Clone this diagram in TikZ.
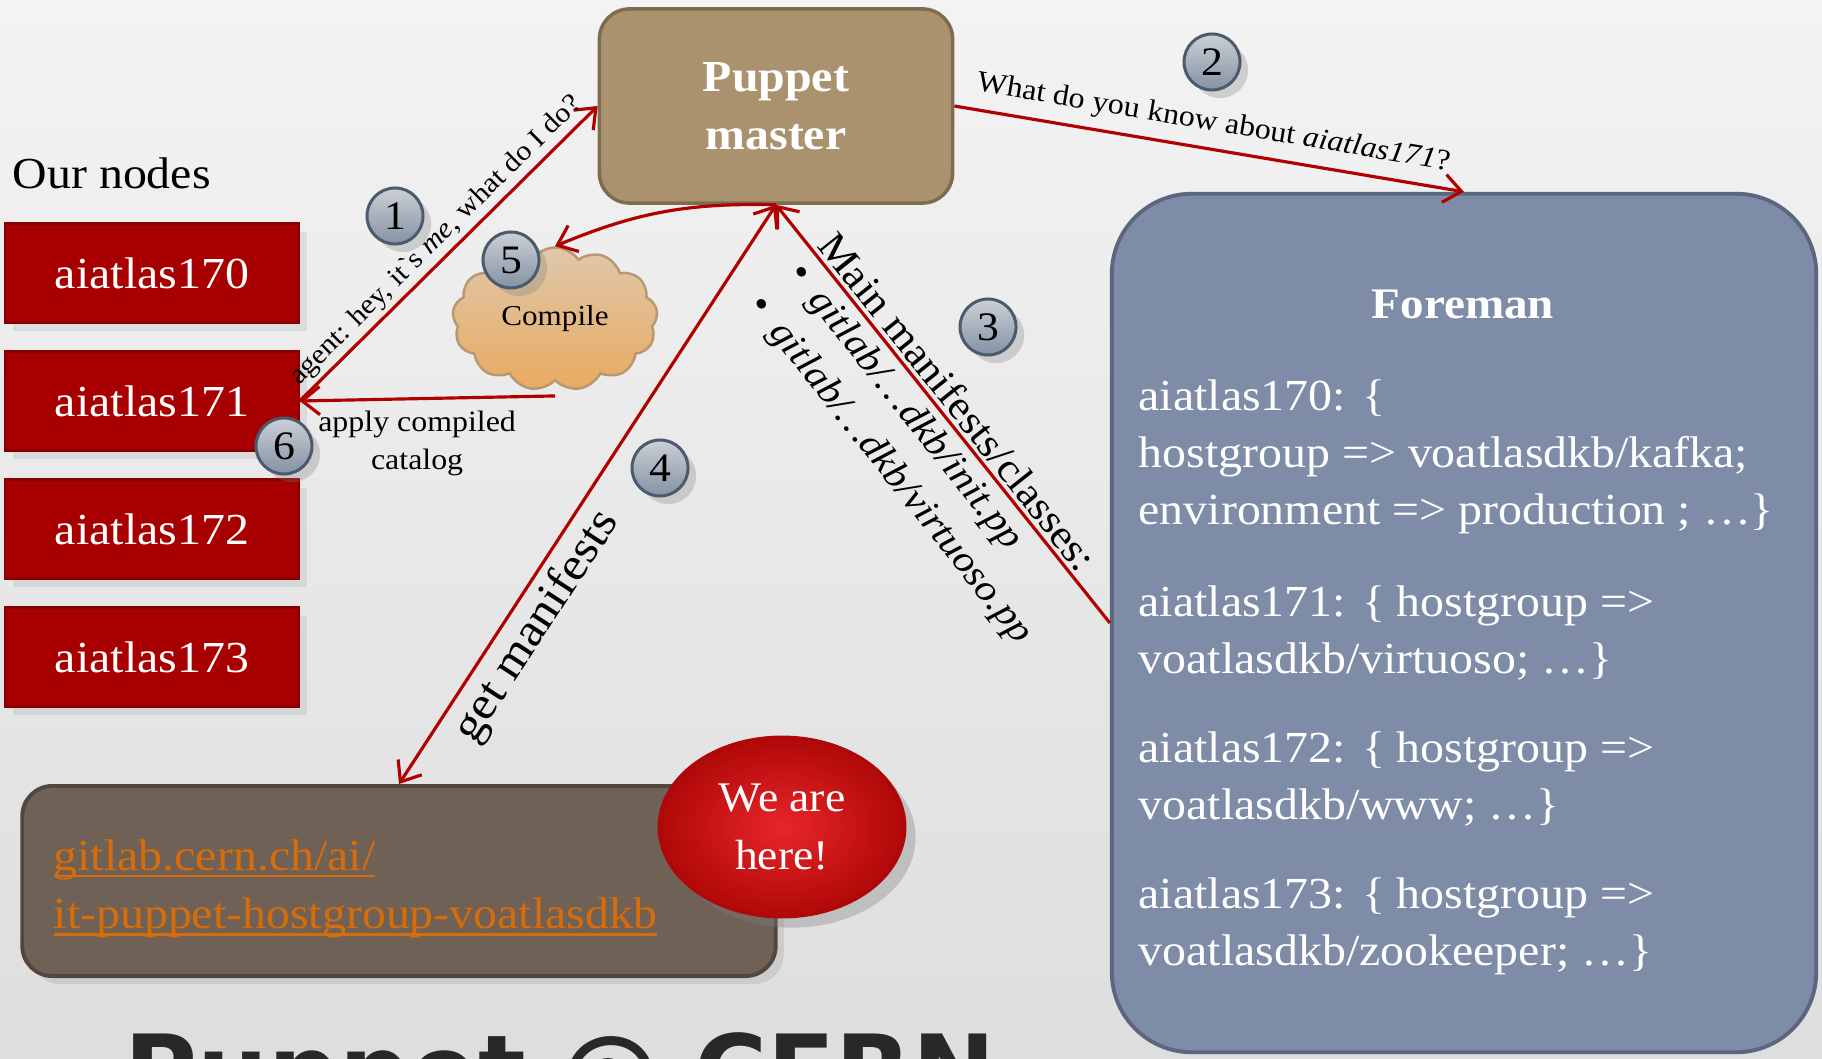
\documentclass[tikz,border=0pt]{standalone}
\usepackage{fontspec}
\setmainfont{Liberation Serif}[FakeStretch=1.08]
\newfontfamily\titlefont{DejaVu Sans}
\usetikzlibrary{shapes,shapes.symbols,arrows.meta,positioning,shadows,calc}
\definecolor{bgtop}{RGB}{243,243,243}
\definecolor{bgbot}{RGB}{222,222,222}
\definecolor{nodered}{RGB}{168,0,0}
\definecolor{noderedline}{RGB}{136,0,0}
\definecolor{masterfill}{RGB}{171,146,110}
\definecolor{masterline}{RGB}{126,108,80}
\definecolor{foremanfill}{RGB}{126,140,167}
\definecolor{foremanline}{RGB}{91,103,128}
\definecolor{gitfill}{RGB}{112,97,87}
\definecolor{gitline}{RGB}{82,70,63}
\definecolor{linkorange}{RGB}{214,108,10}
\definecolor{arrowred}{RGB}{176,0,0}
\definecolor{badgetop}{RGB}{204,208,214}
\definecolor{badgebot}{RGB}{132,146,164}
\definecolor{badgeline}{RGB}{75,90,108}
\definecolor{cloudtop}{RGB}{222,200,170}
\definecolor{cloudbot}{RGB}{233,170,96}
\definecolor{cloudline}{RGB}{182,152,114}
\definecolor{hereinner}{RGB}{232,38,42}
\definecolor{hereouter}{RGB}{176,8,8}
\definecolor{titlegray}{RGB}{40,40,40}
\newcommand{\linktext}[1]{\setbox0\hbox{#1}\rlap{\rule[-2pt]{\wd0}{0.6pt}}\box0}

\begin{document}
\begin{tikzpicture}[x=0.01cm, y=-0.01cm,
    flow/.style={draw=arrowred, line width=0.9pt, >={Straight Barb[length=5pt,width=8pt]}},
    hostbox/.style={rectangle, fill=nodered, draw=noderedline, line width=0.6pt,
        minimum width=2.93cm, minimum height=0.99cm, text=white,
        font=\fontsize{12.6}{15}\selectfont, drop shadow={opacity=0.15}},
    badge/.style={circle, minimum size=0.56cm, inner sep=0pt, top color=badgetop,
        bottom color=badgebot, draw=badgeline, line width=0.85pt,
        font=\fontsize{11.5}{12}\selectfont, drop shadow={opacity=0.3}},
    small/.style={inner sep=0pt, font=\fontsize{8.2}{10.8}\selectfont}]
    % Slide background
    \shade[top color=bgtop, bottom color=bgbot] (0,0) rectangle (1822,1058);
    \useasboundingbox (0,0) rectangle (1822,1058);
    \clip (0,0) rectangle (1822,1058);
    \node[anchor=base, text=titlegray, font=\titlefont\bfseries\fontsize{28.3}{30}\selectfont] (title) at (560,1106) {Puppet @ CERN};

    % Our nodes
    \node[anchor=west, inner sep=0pt, font=\fontsize{12.6}{15}\selectfont] (ournodes) at (12,173) {Our nodes};
    \node[hostbox] (ai170) at (152,273) {aiatlas170};
    \node[hostbox] (ai171) at (152,401) {aiatlas171};
    \node[hostbox] (ai172) at (152,529) {aiatlas172};
    \node[hostbox] (ai173) at (152,657) {aiatlas173};

    % Puppet master and Foreman
    \node[rectangle, rounded corners=0.3cm, minimum width=3.53cm, minimum height=1.94cm,
        fill=masterfill, draw=masterline, line width=1pt, text=white, align=center,
        font=\bfseries\fontsize{12.6}{16.5}\selectfont] (master) at (776,106) {Puppet\\master};
    \node[rectangle, rounded corners=0.8cm, minimum width=7.04cm, minimum height=8.58cm,
        fill=foremanfill, draw=foremanline, line width=1.1pt] (foreman) at (1464,623) {};
    \node[text=white, font=\bfseries\fontsize{12.4}{15}\selectfont] (foremantitle) at (1463,304) {Foreman};
    \node[anchor=north west, inner sep=0pt, align=left, text=white,
        font=\fontsize{12.6}{16.2}\selectfont] (hosts) at (1138,379)
        {aiatlas170: \{\\hostgroup => voatlasdkb/kafka;\\environment => production ; …\}\\[10pt]
         aiatlas171: \{ hostgroup =>\\voatlasdkb/virtuoso; …\}\\[9.1pt]
         aiatlas172: \{ hostgroup =>\\voatlasdkb/www; …\}\\[9.1pt]
         aiatlas173: \{ hostgroup =>\\voatlasdkb/zookeeper; …\}};

    % Git repository
    \node[rectangle, rounded corners=0.3cm, minimum width=7.53cm, minimum height=1.90cm,
        fill=gitfill, draw=gitline, line width=1.1pt, drop shadow={opacity=0.2}] (gitlab) at (399,881) {};
    \node[anchor=north west, inner sep=0pt, align=left, text=linkorange,
        font=\fontsize{12.6}{16.5}\selectfont] (gitlink) at (53,839)
        {\linktext{gitlab.cern.ch/ai/}\\\linktext{it-puppet-hostgroup-voatlasdkb}};
    \node[ellipse, minimum width=2.46cm, minimum height=1.80cm, inner color=hereinner,
        outer color=hereouter, draw=hereouter, line width=0.8pt, text=white, align=center,
        font=\fontsize{12}{16.5}\selectfont,
        drop shadow={opacity=0.35, shadow xshift=3pt, shadow yshift=-3pt}] (here) at (782,827) {We are\\here!};

    % Compile cloud
    \node[cloud, cloud puffs=13, cloud puff arc=110, cloud ignores aspect,
        minimum width=2.05cm, minimum height=1.43cm, top color=cloudtop, bottom color=cloudbot,
        draw=cloudline, line width=0.7pt, font=\fontsize{8.2}{10}\selectfont] (compile) at (555,319) {Compile};

    % Connectors
    \draw[flow,->] (ai171.east) -- node[sloped, above=1pt, small, font=\fontsize{7.9}{9}\selectfont]
        {agent: hey, it\textasciigrave s \textit{me}, what do I do?} (master.west);
    \draw[flow,->] (master.east) -- node[sloped, above=3pt, small, font=\fontsize{8.4}{10}\selectfont]
        {What do you know about \textit{aiatlas171}?} (foreman.north);
    \draw[flow,->] (foreman.west) --
        node[pos=0.5, sloped, above=1pt, small, font=\fontsize{11.6}{14}\selectfont] {Main manifests/classes:}
        node[pos=0.48, sloped, below=2pt, small, align=left, font=\fontsize{10.8}{14.5}\selectfont]
        {\textbullet\hspace{0.5em}\textit{gitlab/…dkb/init.pp}\\\textbullet\hspace{0.5em}\textit{gitlab/…dkb/virtuoso.pp}}
        (master.south);
    \draw[flow,<->] (gitlab.north) -- node[pos=0.3, sloped, below=2pt, small, font=\fontsize{13.2}{15}\selectfont]
        {get manifests} (master.south);
    \draw[flow,->] (master.south) to[bend right=12] (compile.north);
    \draw[flow,->] ([yshift=-4pt]compile.south) -- node[pos=0.54, below=3pt, small, align=center,
        font=\fontsize{8.4}{10.8}\selectfont] {apply compiled\\catalog} (ai171.east);

    % Step badges
    \node[badge] (b1) at (395,216) {1};
    \node[badge] (b2) at (1212,62) {2};
    \node[badge] (b3) at (988,327) {3};
    \node[badge] (b4) at (660,468) {4};
    \node[badge] (b5) at (511,260) {5};
    \node[badge] (b6) at (284,446) {6};
\end{tikzpicture}
\end{document}
